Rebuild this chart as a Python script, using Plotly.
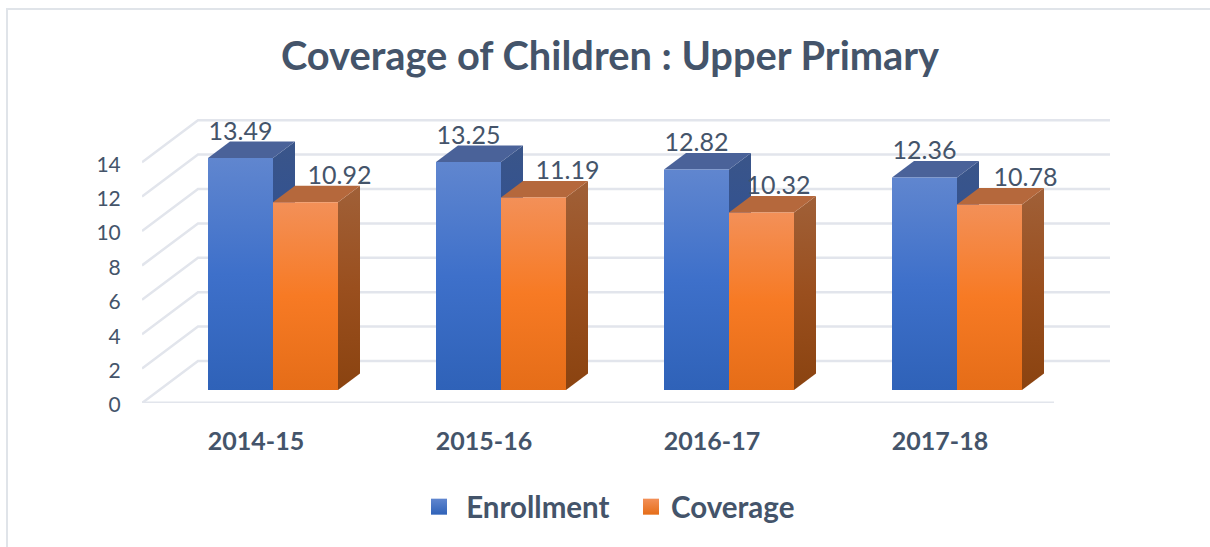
import plotly.graph_objects as go

categories = ["2014-15", "2015-16", "2016-17", "2017-18"]
enrollment = [13.49, 13.25, 12.82, 12.36]
coverage = [10.92, 11.19, 10.32, 10.78]
y_ticks = [0, 2, 4, 6, 8, 10, 12, 14]

FONT = "Lato"
TEXT = "#44546a"
GRID = "#e2e5ec"
W, H = 1210, 547
L, R, B, T = 142, 1110, 403, 110
PX_X = 228.0          # pixels per category
PX_Y = 17.2           # pixels per value unit
FLOOR_X, FLOOR_Y = 56 / PX_X, 42 / PX_Y     # full floor depth
BAR_X, BAR_Y = 17 / PX_X, 13 / PX_Y         # front plane of bars
DEP_X, DEP_Y = 22 / PX_X, 16.5 / PX_Y       # bar depth
BAR_W = 65 / PX_X
XMIN = -0.5
XMAX = XMIN + (R - L) / PX_X
XFRONT = 3.5
LABEL_UP = 24.5 / PX_Y

STYLE = {
    "Enrollment": dict(front=("#6086cf", "#3e70ca", "#2f62b8"), side=("#3a5589", "#2e5096", "#254a8e"),
                       top=("#4a6299", "#4a6299", "#4a6299"), lab=[0, 0, 0, 0]),
    "Coverage": dict(front=("#f39058", "#f77a24", "#e56d18"), side=("#a06038", "#9a4f1e", "#8a4310"),
                     top=("#b5683c", "#b5683c", "#b5683c"), lab=[34, 34, 17, 36]),
}

fig = go.Figure()


def poly(xs, ys, c_top, c_mid, c_bot):
    fig.add_trace(go.Scatter(
        x=xs + xs[:1], y=ys + ys[:1], mode="lines", fill="toself",
        line=dict(width=0), hoverinfo="skip", showlegend=False,
        fillgradient=dict(type="vertical", colorscale=[[0, c_bot], [0.5, c_mid], [1, c_top]]),
    ))


# walls and grid
for v in y_ticks:
    fig.add_trace(go.Scatter(
        x=[XMIN, XMIN + FLOOR_X, XMAX], y=[v, v + FLOOR_Y, v + FLOOR_Y], mode="lines",
        line=dict(color=GRID, width=2.5), hoverinfo="skip", showlegend=False, cliponaxis=False))
fig.add_trace(go.Scatter(x=[XMIN, XFRONT], y=[0, 0], mode="lines", cliponaxis=False,
                         line=dict(color=GRID, width=3), hoverinfo="skip", showlegend=False))

# 3-D bars
for i in range(len(categories)):
    for name, vals, sign in (("Enrollment", enrollment, -1), ("Coverage", coverage, 0)):
        s = STYLE[name]
        v = vals[i]
        x0 = i + BAR_X + sign * BAR_W
        x1 = x0 + BAR_W
        b, t = BAR_Y, BAR_Y + v
        poly([x1, x1 + DEP_X, x1 + DEP_X, x1], [b, b + DEP_Y, t + DEP_Y, t], *s["side"])
        poly([x0, x1, x1 + DEP_X, x0 + DEP_X], [t, t, t + DEP_Y, t + DEP_Y], *s["top"])
        poly([x0, x1, x1, x0], [b, b, t, t], *s["front"])

# data labels
for name, vals, sign in (("Enrollment", enrollment, -1), ("Coverage", coverage, 0)):
    s = STYLE[name]
    fig.add_trace(go.Scatter(
        x=[i + BAR_X + (sign + 0.5) * BAR_W + s["lab"][i] / PX_X for i in range(len(categories))],
        y=[BAR_Y + v + LABEL_UP for v in vals],
        text=[f"{v:.2f}" for v in vals], mode="text", textposition="middle center",
        textfont=dict(family=FONT, size=25, color=TEXT),
        hoverinfo="skip", showlegend=False, cliponaxis=False))

# legend entries
for name in STYLE:
    c = STYLE[name]["front"]
    fig.add_trace(go.Scatter(
        x=[None], y=[None], mode="markers", name=name.replace("Enrollment", "\u00a0Enrollment"),
        marker=dict(symbol="square", size=18, color=c[0], line=dict(width=0),
                    gradient=dict(type="vertical", color=c[2]))))


def px(p):
    return (p - L) / (R - L)


def py(p):
    return (B - p) / (B - T)


fig.update_layout(
    width=W, height=H, autosize=False,
    margin=dict(l=L, r=W - R, t=T, b=H - B, pad=0),
    paper_bgcolor="white", plot_bgcolor="white",
    font=dict(family=FONT, color=TEXT),
    title=dict(text="<b>Coverage of Children : Upper Primary</b>", x=610 / W, xref="container", xanchor="center",
               y=1 - 56 / H, yref="container", yanchor="middle",
               font=dict(family=FONT, size=39.8, color=TEXT)),
    xaxis=dict(range=[XMIN, XMAX], tickmode="array", tickvals=list(range(len(categories))),
               ticktext=[f"<b>{c}</b>" for c in categories], showgrid=False, zeroline=False, showline=False,
               ticks="outside", ticklen=16, tickwidth=1, tickcolor="rgba(0,0,0,0)",
               tickfont=dict(family=FONT, size=25, color=TEXT)),
    yaxis=dict(range=[0, (B - T) / PX_Y], tickmode="array", tickvals=y_ticks, showgrid=False, zeroline=False,
               showline=False, ticks="outside", ticklen=16, tickwidth=1, tickcolor="rgba(0,0,0,0)",
               ticklabelshift=2, tickfont=dict(family=FONT, size=21, color=TEXT)),
    legend=dict(orientation="h", xref="container", yref="container", x=(427 - 8) / W, xanchor="left",
                y=1 - 481 / H, yanchor="top", entrywidth=167, entrywidthmode="pixels",
                font=dict(family=FONT, size=29.5, color=TEXT, weight="bold"),
                itemsizing="trace", bgcolor="rgba(0,0,0,0)"),
    shapes=[dict(type="path", xref="paper", yref="paper", layer="below",
                 path=f"M {px(7)} {py(547)} L {px(7)} {py(9)} L {px(1210)} {py(9)}",
                 line=dict(color="#e0e4e9", width=2))],
)

fig.write_html("out.html", config=dict(displayModeBar=False),
               post_script="document.body.style.margin='0';document.body.style.overflow='hidden';")
